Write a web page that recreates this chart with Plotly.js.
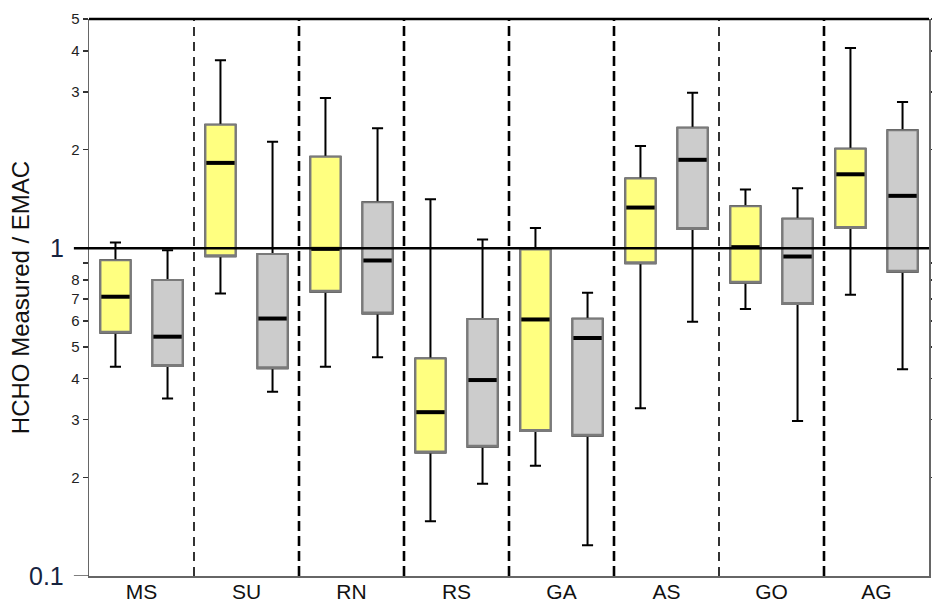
<!DOCTYPE html>
<html>
<head>
<meta charset="utf-8">
<script src="https://cdn.plot.ly/plotly-3.0.1.min.js"></script>
<style>html,body{margin:0;padding:0;background:#fff;}#chart{width:932px;height:607px;}</style>
</head>
<body>
<div id="chart"></div>
<script>
// ---- data ----
const categories = ['MS', 'SU', 'RN', 'RS', 'GA', 'AS', 'GO', 'AG'];

// yellow series
const yelLower  = [0.435, 0.727, 0.435, 0.147, 0.217, 0.325, 0.652, 0.721];
const yelQ1     = [0.552, 0.945, 0.736, 0.238, 0.277, 0.900, 0.784, 1.153];
const yelMedian = [0.711, 1.82,  0.995, 0.316, 0.606, 1.33,  1.007, 1.68 ];
const yelQ3     = [0.919, 2.38,  1.90,  0.461, 0.99,  1.63,  1.343, 2.01 ];
const yelUpper  = [1.04,  3.74,  2.87,  1.41,  1.153, 2.05,  1.51,  4.08 ];

// grey series
const grLower  = [0.348, 0.365, 0.465, 0.191, 0.124, 0.596, 0.297, 0.427];
const grQ1     = [0.437, 0.430, 0.632, 0.248, 0.268, 1.143, 0.675, 0.847];
const grMedian = [0.537, 0.610, 0.917, 0.396, 0.532, 1.86,  0.943, 1.444];
const grQ3     = [0.799, 0.959, 1.38,  0.608, 0.609, 2.33,  1.229, 2.29 ];
const grUpper  = [0.986, 2.11,  2.32,  1.063, 0.731, 2.98,  1.524, 2.79 ];

const yTickVals = [0.2, 0.3, 0.4, 0.5, 0.6, 0.7, 0.8, 0.9, 2, 3, 4, 5];
const yTickText = ['2', '3', '4', '5', '6', '7', '8', '', '2', '3', '4', '5'];
const bigLabels = [{v: 1, t: '1'}, {v: 0.1, t: '0.1'}];

// ---- layout helpers ----
const OFFSET = 0.248;
const BOXW = 0.286;
const MEDHALF = 0.135;
const YELLOW = '#ffff80';
const GREY = '#cccccc';
const OUTLINE = '#7a7a7a';

const idx = categories.map((c, i) => i);
const xYel = idx.map(i => i - OFFSET);
const xGr = idx.map(i => i + OFFSET);

function whiskers(x, lo, q1, med, q3, up) {
  return {
    type: 'box', x: x, q1: q1, median: med, q3: q3, lowerfence: lo, upperfence: up,
    width: BOXW, whiskerwidth: 0.37, boxpoints: false,
    line: {color: '#000', width: 2}, fillcolor: 'rgba(0,0,0,0)',
    hoverinfo: 'skip', showlegend: false
  };
}
function body(x, q1, q3, fill) {
  return {
    type: 'box', x: x, q1: q1, median: q1, q3: q3, lowerfence: q1, upperfence: q3,
    width: BOXW, whiskerwidth: 0, boxpoints: false,
    line: {color: OUTLINE, width: 2}, fillcolor: fill,
    hoverinfo: 'skip', showlegend: false
  };
}
function medians(x, med) {
  const xs = [], ys = [];
  x.forEach((xi, i) => { xs.push(xi - MEDHALF, xi + MEDHALF, null); ys.push(med[i], med[i], null); });
  return {type: 'scatter', mode: 'lines', x: xs, y: ys, line: {color: '#000', width: 4},
          hoverinfo: 'skip', showlegend: false};
}

const traces = [
  whiskers(xYel, yelLower, yelQ1, yelMedian, yelQ3, yelUpper),
  whiskers(xGr, grLower, grQ1, grMedian, grQ3, grUpper),
  body(xYel, yelQ1, yelQ3, YELLOW),
  body(xGr, grQ1, grQ3, GREY),
  medians(xYel, yelMedian),
  medians(xGr, grMedian)
];

const shapes = [];
// group separators
for (let i = 0; i < categories.length - 1; i++) {
  const thin = (i === 0 || i === 5);
  shapes.push({type: 'line', xref: 'x', yref: 'paper', x0: i + 0.5, x1: i + 0.5, y0: 0, y1: 1,
    line: {color: '#000', width: thin ? 1.6 : 2.6, dash: thin ? '9px,6px' : '10px,5px'}, layer: 'below'});
}
// reference line at ratio 1 (extends over the tick)
shapes.push({type: 'line', xref: 'paper', yref: 'y', x0: -0.018, x1: 1, y0: 1, y1: 1,
  line: {color: '#000', width: 2.5}});
// long tick at 0.1
shapes.push({type: 'line', xref: 'paper', yref: 'y', x0: -0.018, x1: 0, y0: 0.1, y1: 0.1,
  line: {color: '#555', width: 1.5}});
// top frame line
shapes.push({type: 'line', xref: 'paper', yref: 'paper', x0: 0, x1: 1, y0: 1, y1: 1,
  line: {color: '#000', width: 2.5}});

const annotations = bigLabels.map(b => ({
  xref: 'paper', yref: 'y', x: -0.027, y: Math.log10(b.v), text: b.t, showarrow: false,
  xanchor: 'right', yanchor: 'middle', font: {family: 'Liberation Sans, Arial, sans-serif', size: 25, color: '#16233f'}
}));

const layout = {
  width: 932, height: 607,
  margin: {l: 89, r: 3, t: 19, b: 31},
  paper_bgcolor: '#fff', plot_bgcolor: '#fff',
  boxmode: 'overlay',
  showlegend: false,
  font: {family: 'Liberation Sans, Arial, sans-serif', color: '#111'},
  xaxis: {
    range: [-0.5, categories.length - 0.5], tickvals: idx, ticktext: categories,
    ticks: '', showgrid: false, zeroline: false, showline: true, linecolor: '#666', linewidth: 1.5,
    tickfont: {size: 21, color: '#111'}, ticklabelstandoff: -4, fixedrange: true
  },
  yaxis: {
    type: 'log', range: [-1, Math.log10(5)],
    tickvals: yTickVals, ticktext: yTickText,
    ticks: 'outside', ticklen: 5, tickwidth: 1.6, tickcolor: '#333',
    showgrid: false, zeroline: false, showline: true, linecolor: '#666', linewidth: 1.5, mirror: 'ticks',
    tickfont: {size: 15, color: '#222'},
    title: {text: 'HCHO Measured / EMAC', font: {size: 24, color: '#111'}, standoff: 35},
    fixedrange: true
  },
  shapes: shapes,
  annotations: annotations
};

Plotly.newPlot('chart', traces, layout, {displayModeBar: false, staticPlot: true});
</script>
</body>
</html>
